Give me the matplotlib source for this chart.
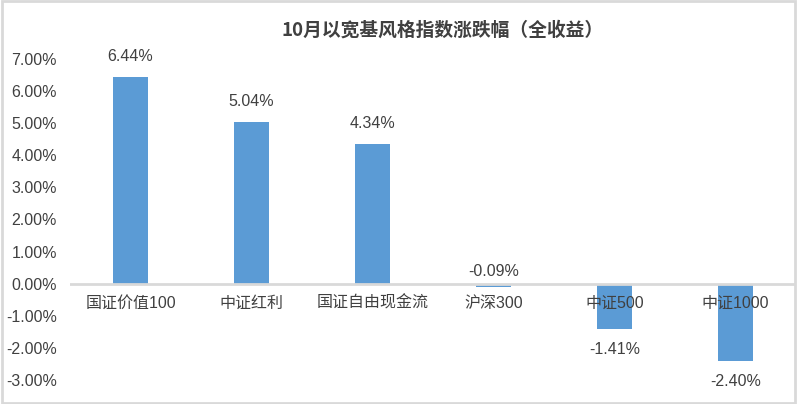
import matplotlib.pyplot as plt
from matplotlib.patches import Rectangle

plt.rcParams['font.family'] = ['Liberation Sans', 'Noto Sans CJK SC']

# data
categories = ['国证价值100', '中证红利', '国证自由现金流', '沪深300', '中证500', '中证1000']
values = [6.44, 5.04, 4.34, -0.09, -1.41, -2.40]
yticks = [-3, -2, -1, 0, 1, 2, 3, 4, 5, 6, 7]

W, H = 797, 404
fig = plt.figure(figsize=(W / 100, H / 100), dpi=100)
ax = fig.add_axes([70 / W, (H - 380) / H, 726 / W, (380 - 59) / H])

x = range(len(categories))
ax.bar(x, values, width=0.29, color='#5B9BD5', zorder=2)
ax.set_xlim(-0.5, len(categories) - 0.5)
ax.set_ylim(-3, 7)

ax.set_yticks(yticks)
ax.set_yticklabels(['%.2f%%' % t for t in yticks])
ax.tick_params(axis='y', length=0, labelsize=11.5, labelcolor='#404040', pad=9.5)
ax.set_xticks([])
for s in ['top', 'right', 'left', 'bottom']:
    ax.spines[s].set_visible(False)
ax.axhline(0, color='#D9D9D9', lw=2, zorder=3)

# category labels just under zero line
for i, c in enumerate(categories):
    ax.annotate(c, (i, 0), xytext=(0, -14), textcoords='offset points',
                ha='center', va='center', fontsize=11.5, color='#404040')

# value labels
for i, v in enumerate(values):
    if v >= 0:
        pos, off = v, 15
    elif v > -0.5:
        pos, off = 0, 9
    else:
        pos, off = v, -15
    ax.annotate('%.2f%%' % v, (i, pos), xytext=(0, off), textcoords='offset points',
                ha='center', va='center', fontsize=11.5, color='#404040', annotation_clip=False)

fig.text(443 / W, 1 - 30 / H, '10月以宽基风格指数涨跌幅（全收益）', ha='center', va='center',
         fontsize=13.5, fontweight='bold', color='#404040', family=['Noto Sans CJK SC'])

fig.patches.append(Rectangle((0.002, 0.003), 0.996, 0.994, transform=fig.transFigure,
                             fill=False, edgecolor='#D9D9D9', lw=2))

fig.savefig('out.png', dpi=100)
